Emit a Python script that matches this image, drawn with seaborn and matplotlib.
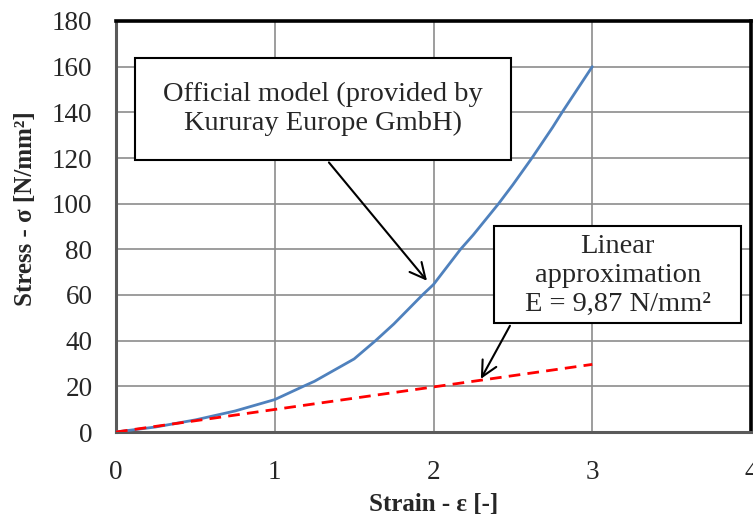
import matplotlib
matplotlib.use("Agg")
import matplotlib.pyplot as plt
import seaborn as sns
import pandas as pd
from matplotlib.patches import Rectangle

# ---- data ----
strain_model = [0.0, 0.25, 0.5, 0.75, 1.0, 1.18, 1.25, 1.5, 1.635, 1.75, 1.93, 2.0,
                2.17, 2.25, 2.41, 2.5, 2.62, 2.75, 2.81, 3.0]
stress_model = [0.0, 2.2, 5.3, 9.2, 14.2, 20.0, 22.2, 32.0, 40.0, 47.3, 60.0, 64.6,
                80.0, 86.3, 100.0, 108.3, 120.0, 133.4, 140.0, 160.0]
strain_linear = [0.0, 3.0]
E_modulus = 9.87
stress_linear = [E_modulus * s for s in strain_linear]

x_ticks = [0, 1, 2, 3, 4]
y_ticks = [0, 20, 40, 60, 80, 100, 120, 140, 160, 180]
x_label = "Strain - ε [-]"
y_label = "Stress - σ [N/mm²]"
note_model = "Official model (provided by\nKururay Europe GmbH)"
note_linear = "Linear\napproximation\nE = 9,87 N/mm²"

sns.set_style("white")
plt.rcParams["font.family"] = ["Liberation Serif", "DejaVu Serif"]

fig = plt.figure(figsize=(7.53, 5.23), dpi=100)
ax = fig.add_axes([116 / 753, 1 - 432 / 523, (751 - 116) / 753, (432 - 21) / 523])

df_model = pd.DataFrame({"strain": strain_model, "stress": stress_model})
df_lin = pd.DataFrame({"strain": strain_linear, "stress": stress_linear})

sns.lineplot(data=df_model, x="strain", y="stress", ax=ax, color="#4F81BD",
             linewidth=2.0, zorder=5)
sns.lineplot(data=df_lin, x="strain", y="stress", ax=ax, color="#FF0000",
             linewidth=2.0, zorder=6)
ax.lines[-1].set_dashes([4.2, 2.6])

ax.set_xlim(0, 4)
ax.set_ylim(0, 180)
ax.set_xticks(x_ticks)
ax.set_yticks(y_ticks)
ax.set_xticklabels([str(t) for t in x_ticks])
ax.set_yticklabels([str(t) for t in y_ticks])
ax.tick_params(axis="x", length=0, pad=20, labelsize=19.5)
ax.tick_params(axis="y", length=0, pad=17, labelsize=19.5)
ax.grid(True, color="#8c8c8c", linewidth=1.2, zorder=0)
ax.set_axisbelow(True)

ax.set_xlabel(x_label, fontsize=18, fontweight="bold", labelpad=6)
ax.set_ylabel(y_label, fontsize=18, fontweight="bold")
ax.yaxis.set_label_coords(-0.124, 0.543)

for side in ["top", "right"]:
    ax.spines[side].set_color("black")
    ax.spines[side].set_linewidth(2.6)
for side in ["left", "bottom"]:
    ax.spines[side].set_color("#5a5a5a")
    ax.spines[side].set_linewidth(2.2)

# annotation boxes
ax.add_patch(Rectangle((0.12, 119), 2.37, 45, facecolor="white", edgecolor="black",
                       linewidth=1.5, zorder=3))
ax.text(1.305, 141.5, note_model, ha="center", va="center", fontsize=20.5,
        linespacing=1.25, zorder=4)
ax.annotate("", xy=(1.97, 65.3), xytext=(1.33, 119),
            arrowprops=dict(arrowstyle="->", color="black", lw=1.5, mutation_scale=28),
            zorder=7)

ax.add_patch(Rectangle((2.38, 47.8), 1.56, 42.6, facecolor="white", edgecolor="black",
                       linewidth=1.5, zorder=3))
ax.text(3.16, 68.5, note_linear, ha="center", va="center", fontsize=20.5,
        linespacing=1.22, zorder=4)
ax.annotate("", xy=(2.29, 22.2), xytext=(2.49, 47.6),
            arrowprops=dict(arrowstyle="->", color="black", lw=1.5, mutation_scale=28),
            zorder=7)

fig.savefig("out.png", dpi=100)
